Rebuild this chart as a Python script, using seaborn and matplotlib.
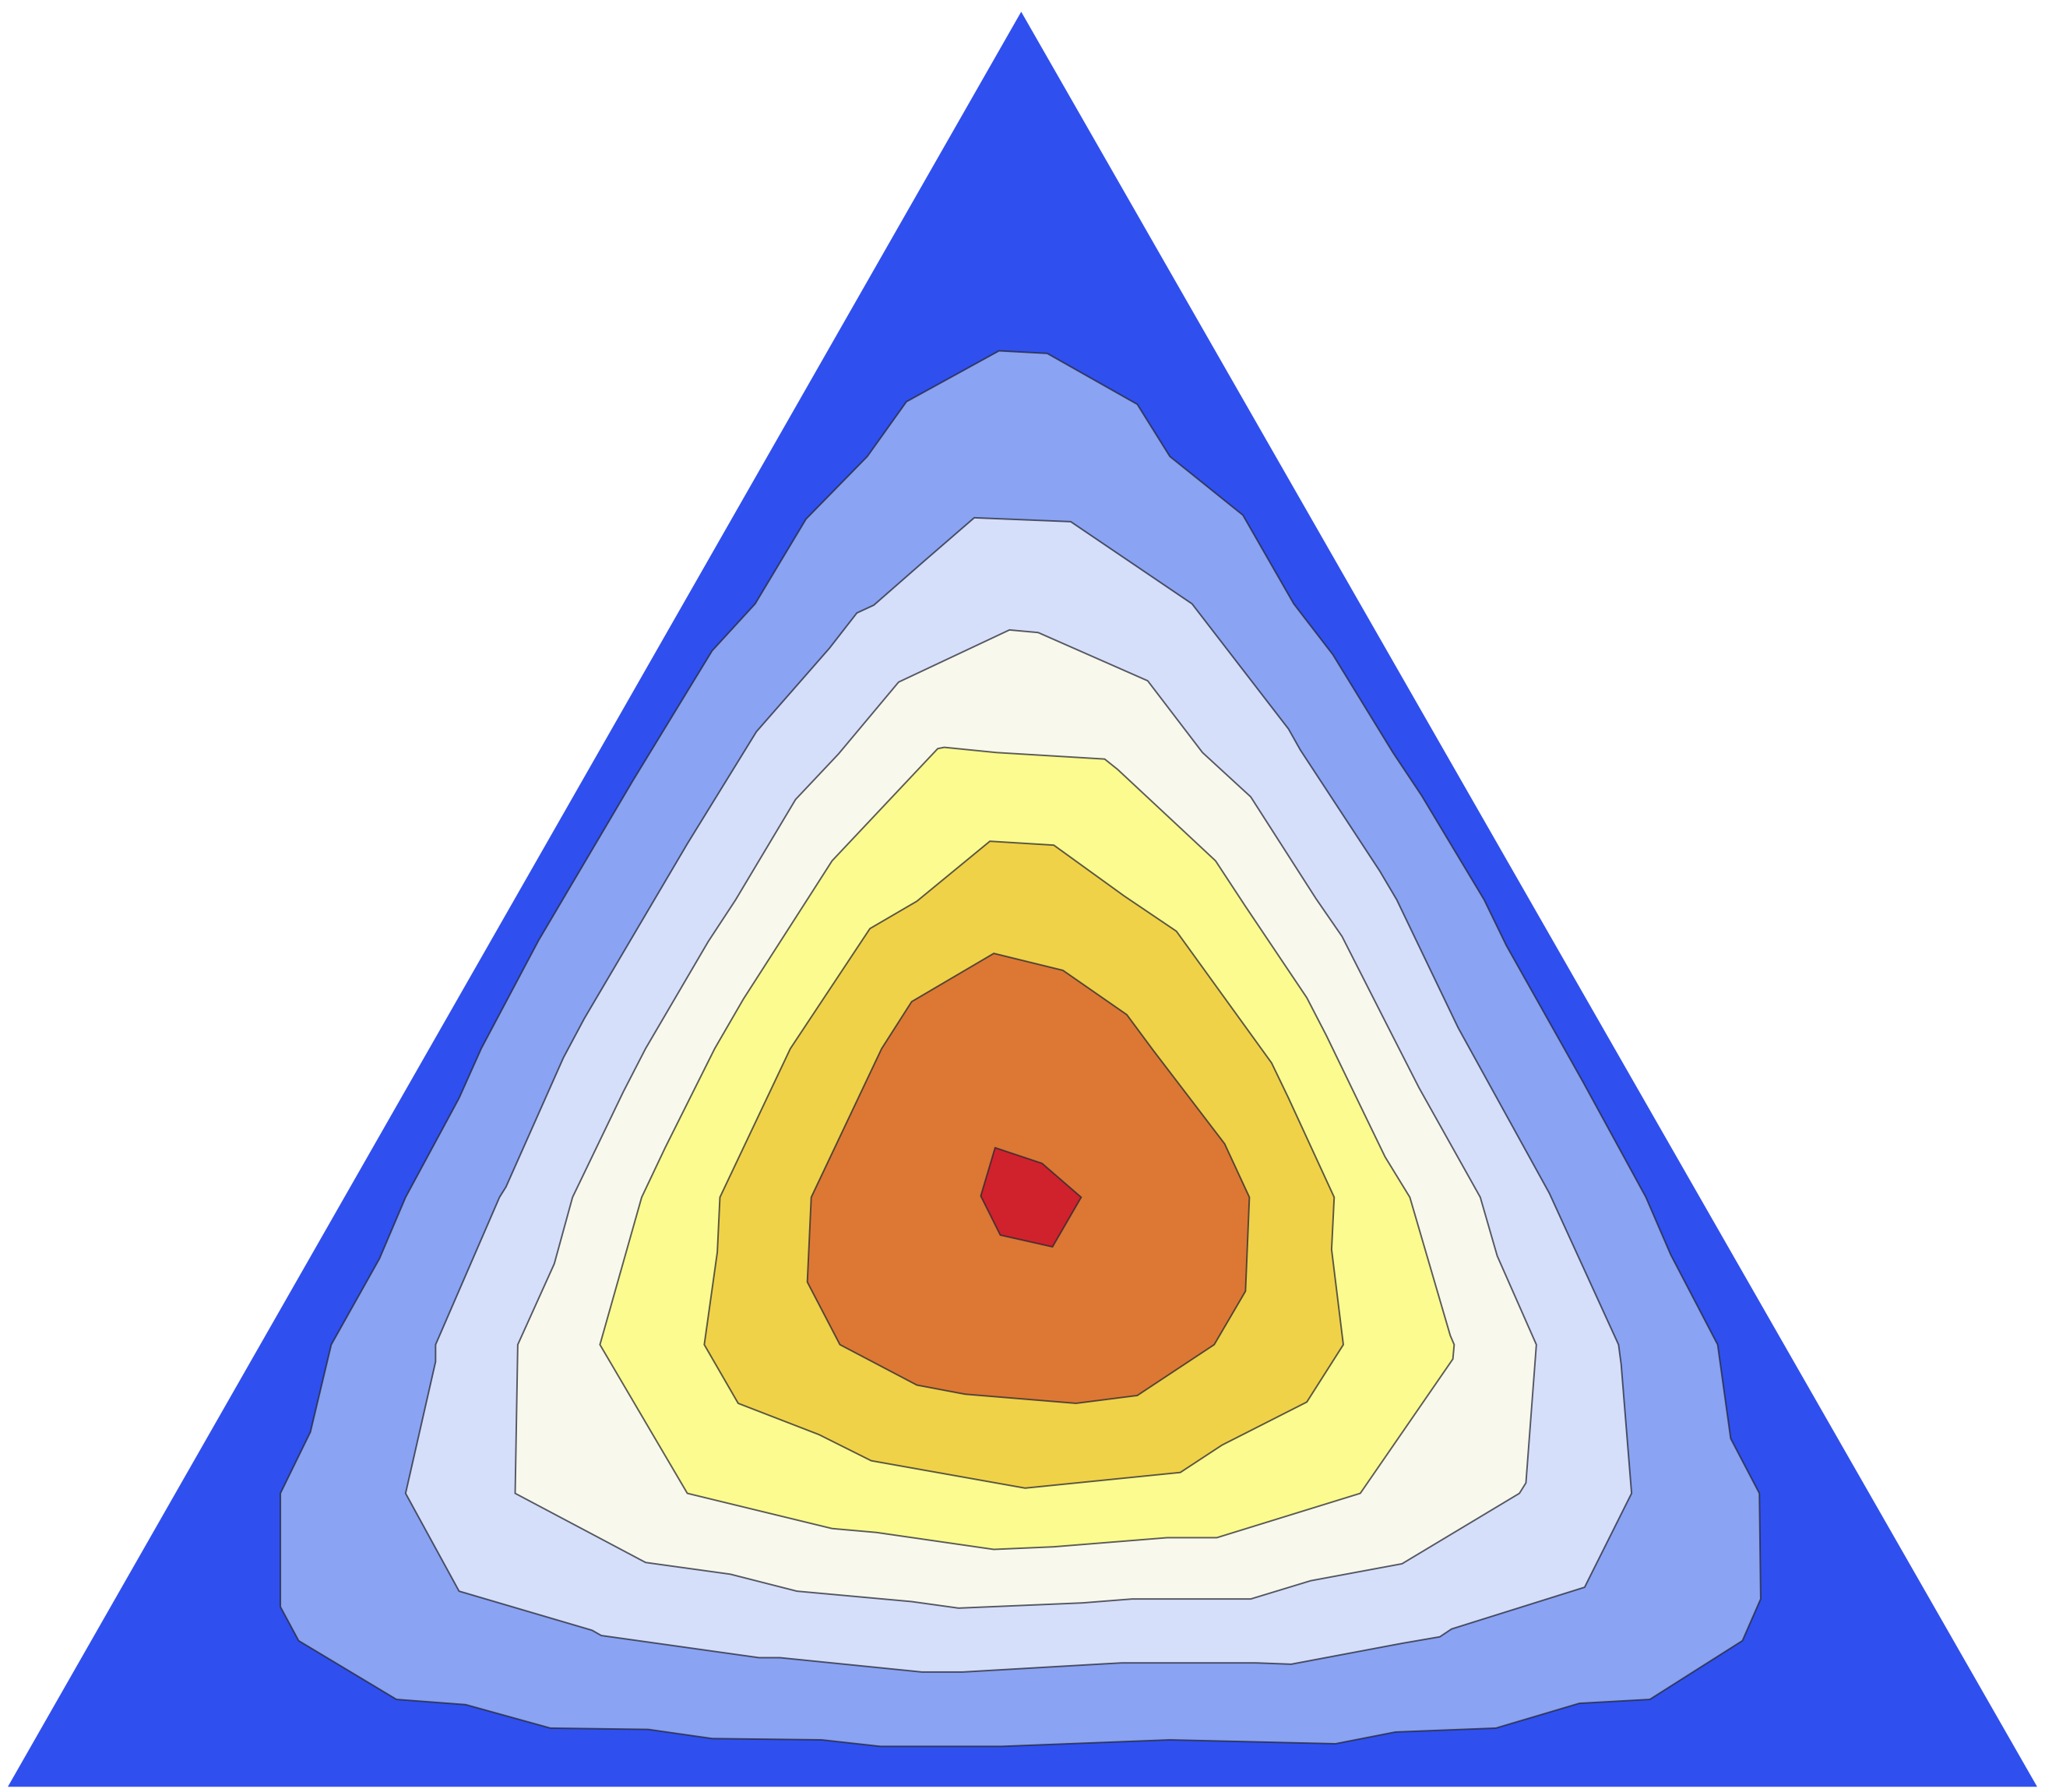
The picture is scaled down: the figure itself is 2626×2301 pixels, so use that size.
import matplotlib
matplotlib.use("Agg")
import matplotlib.pyplot as plt
import seaborn as sns

# Contour levels of the ternary density plot, outermost first.
# Vertices are (x, y) positions in the plane of the triangle (y grows downwards).
triangle = [(783, 9), (1562, 1370), (6, 1370)]

level_1 = [(766, 269), (803, 271), (872, 310), (897, 350), (953, 395), (992, 463),
           (1022, 502), (1068, 577), (1090, 610), (1138, 690), (1155, 725), (1214, 830),
           (1262, 918), (1281, 962), (1317, 1031), (1327, 1103), (1349, 1145), (1350, 1226),
           (1336, 1258), (1265, 1303), (1211, 1306), (1147, 1325), (1070, 1328), (1024, 1337),
           (897, 1334), (768, 1339), (675, 1339), (630, 1334), (546, 1333), (497, 1326),
           (422, 1325), (357, 1307), (304, 1303), (229, 1258), (215, 1232), (215, 1145),
           (238, 1098), (254, 1031), (291, 965), (311, 918), (352, 842), (369, 804),
           (413, 721), (485, 599), (546, 499), (579, 463), (618, 398), (665, 350), (695, 308)]

level_2 = [(747, 397), (821, 400), (914, 463), (988, 559), (997, 575), (1058, 668),
           (1071, 690), (1118, 788), (1188, 915), (1241, 1031), (1243, 1046), (1251, 1145),
           (1215, 1217), (1113, 1249), (1104, 1255), (1075, 1260), (990, 1276), (963, 1275),
           (860, 1275), (842, 1276), (738, 1282), (707, 1282), (598, 1271), (582, 1271),
           (461, 1254), (454, 1250), (352, 1220), (311, 1145), (334, 1044), (334, 1031),
           (383, 918), (388, 910), (432, 811), (448, 781), (527, 647), (580, 561),
           (636, 497), (657, 470), (670, 464), (710, 429)]

level_3 = [(774, 483), (796, 485), (880, 522), (922, 577), (959, 611), (1009, 689),
           (1029, 718), (1061, 781), (1088, 834), (1135, 918), (1148, 963), (1178, 1031),
           (1170, 1137), (1165, 1145), (1075, 1199), (1005, 1212), (959, 1226), (868, 1226),
           (830, 1229), (735, 1233), (699, 1228), (611, 1220), (560, 1207), (495, 1198),
           (395, 1145), (397, 1031), (425, 969), (439, 918), (478, 837), (495, 804),
           (543, 722), (564, 690), (610, 613), (643, 578), (689, 523)]

level_4 = [(719, 574), (724, 573), (764, 577), (847, 582), (857, 590), (932, 660),
           (955, 695), (1002, 765), (1017, 794), (1062, 887), (1081, 918), (1112, 1024),
           (1115, 1031), (1114, 1042), (1043, 1145), (933, 1179), (895, 1179), (808, 1186),
           (762, 1188), (672, 1175), (638, 1172), (527, 1145), (460, 1031), (492, 918),
           (510, 880), (548, 804), (570, 766), (622, 685), (638, 660)]

level_5 = [(759, 645), (808, 648), (862, 687), (902, 714), (975, 815), (988, 842),
           (1023, 918), (1021, 958), (1030, 1031), (1002, 1075), (937, 1108), (905, 1129),
           (786, 1141), (668, 1120), (628, 1100), (566, 1076), (540, 1031), (550, 960),
           (552, 918), (606, 804), (667, 712), (703, 691)]

level_6 = [(762, 731), (815, 744), (864, 778), (884, 805), (939, 877), (958, 918),
           (955, 990), (931, 1031), (872, 1070), (825, 1076), (740, 1069), (703, 1062),
           (644, 1031), (619, 983), (622, 918), (676, 804), (699, 768)]

level_7 = [(763, 880), (799, 892), (829, 918), (807, 956), (767, 947), (752, 917)]

levels = [level_1, level_2, level_3, level_4, level_5, level_6, level_7]
level_colors = ["#8aa3f2", "#d5dffa", "#f8f9ec", "#fbfb8f", "#f0d248", "#dc7834", "#d0222c"]
base_color = "#2f50ee"

# --- Plotting ---
sns.set_theme(style="white")
palette = sns.color_palette(level_colors)

fig = plt.figure(figsize=(26.26, 23.01), dpi=100)
ax = fig.add_axes([0, 0, 1, 1])

tx, ty = zip(*triangle)
ax.fill(tx, ty, color=base_color, linewidth=0, zorder=1)

for i, (poly, color) in enumerate(zip(levels, palette)):
    px, py = zip(*poly)
    ax.fill(px, py, facecolor=color, edgecolor=(0.15, 0.15, 0.2, 0.75),
            linewidth=1.4, zorder=2 + i)

ax.set_xlim(0, 1568)
ax.set_ylim(1374, 0)
ax.axis("off")

fig.savefig("out.png", dpi=100, facecolor="white")
plt.close(fig)
